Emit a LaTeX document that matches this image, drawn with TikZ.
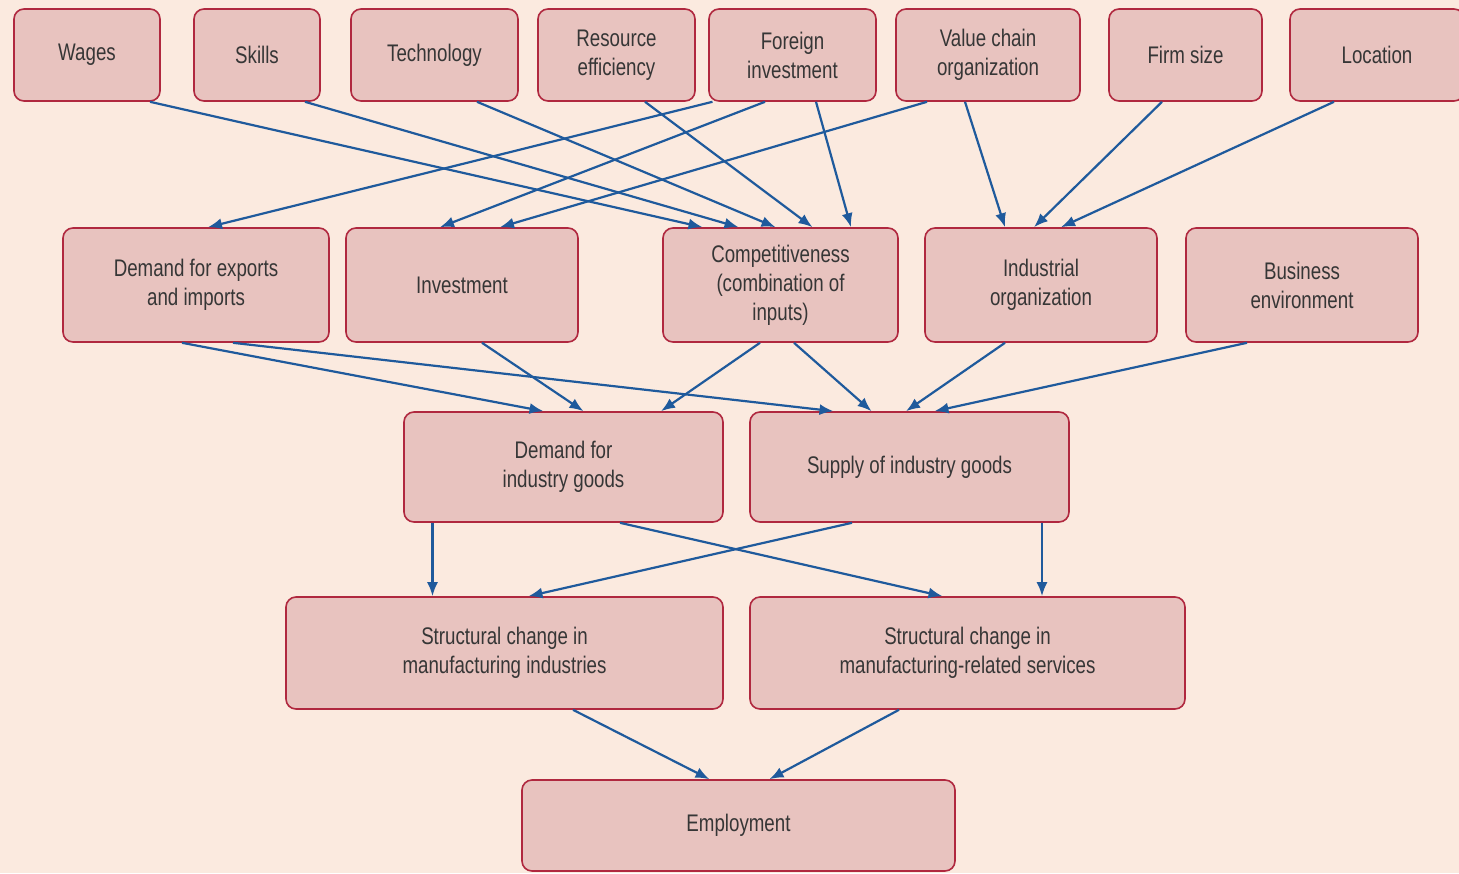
\documentclass[tikz,border=0pt]{standalone}
\usepackage{fontspec}
\setmainfont{Liberation Sans}[FakeStretch=0.78]
\usetikzlibrary{arrows.meta}
\definecolor{bgcol}{HTML}{FBEADF}
\definecolor{boxfill}{HTML}{E8C3BF}
\definecolor{boxline}{HTML}{B0283F}
\definecolor{txtcol}{HTML}{363636}
\definecolor{arrcol}{HTML}{1F5A9C}
\tikzset{
  box/.style={draw=boxline, fill=boxfill, line width=1.6pt, rounded corners=10pt,
    align=center, text=txtcol, inner sep=0pt,
    font=\fontsize{24}{29}\selectfont},
  conn/.style={draw=arrcol, line width=2.2pt, -{Latex[length=14pt,width=11pt]}}
}
\begin{document}
\begin{tikzpicture}[x=1pt,y=-1pt]
\fill[bgcol] (0,0) rectangle (1459,873);
\useasboundingbox (0,0) rectangle (1459,873);
% top row
\node[box, minimum width=146pt, minimum height=92pt] (wages) at (87,55) {Wages};
\node[box, minimum width=126pt, minimum height=92pt] (skills) at (257,55) {Skills};
\node[box, minimum width=167pt, minimum height=92pt] (tech) at (434.5,55) {Technology};
\node[box, minimum width=157pt, minimum height=92pt] (res) at (616.5,55) {Resource\\efficiency};
\node[box, minimum width=167pt, minimum height=92pt] (fdi) at (792.5,55) {Foreign\\investment};
\node[box, minimum width=184pt, minimum height=92pt] (vco) at (988,55) {Value chain\\organization};
\node[box, minimum width=153pt, minimum height=92pt] (firm) at (1185.5,55) {Firm size};
\node[box, minimum width=174pt, minimum height=92pt] (loc) at (1377,55) {Location};
% second row
\node[box, minimum width=266pt, minimum height=114pt] (demexp) at (196,285) {Demand for exports\\and imports};
\node[box, minimum width=232pt, minimum height=114pt] (inv) at (462,285) {Investment};
\node[box, minimum width=235pt, minimum height=114pt] (comp) at (780.5,285) {Competitiveness\\(combination of\\inputs)};
\node[box, minimum width=232pt, minimum height=114pt] (indorg) at (1041,285) {Industrial\\organization};
\node[box, minimum width=232pt, minimum height=114pt] (bizenv) at (1302,285) {Business\\environment};
% third row
\node[box, minimum width=319pt, minimum height=110pt] (demind) at (563.5,467) {Demand for\\industry goods};
\node[box, minimum width=319pt, minimum height=110pt] (supind) at (909.5,467) {Supply of industry goods};
% fourth row
\node[box, minimum width=437pt, minimum height=112pt] (scmi) at (504.5,653) {Structural change in\\manufacturing industries};
\node[box, minimum width=435pt, minimum height=112pt] (scms) at (967.5,653) {Structural change in\\manufacturing-related services};
% fifth row
\node[box, minimum width=433pt, minimum height=91pt] (emp) at (738.5,825.5) {Employment};
% connectors top -> row 2
\draw[conn] ([xshift=63pt]wages.south) -- ([xshift=-78pt]comp.north);
\draw[conn] ([xshift=48pt]skills.south) -- ([xshift=-42pt]comp.north);
\draw[conn] ([xshift=42.5pt]tech.south) -- ([xshift=-5pt]comp.north);
\draw[conn] ([xshift=28.5pt]res.south) -- ([xshift=32pt]comp.north);
\draw[conn] ([xshift=23.5pt]fdi.south) -- ([xshift=70.5pt]comp.north);
\draw[conn] ([xshift=-80pt]fdi.south) -- ([xshift=12pt]demexp.north);
\draw[conn] ([xshift=-27.5pt]fdi.south) -- ([xshift=-22pt]inv.north);
\draw[conn] ([xshift=-61pt]vco.south) -- ([xshift=38pt]inv.north);
\draw[conn] ([xshift=-23pt]vco.south) -- ([xshift=-36pt]indorg.north);
\draw[conn] ([xshift=-23.5pt]firm.south) -- ([xshift=-7pt]indorg.north);
\draw[conn] ([xshift=-43pt]loc.south) -- ([xshift=20pt]indorg.north);
% row 2 -> row 3
\draw[conn] ([xshift=-14pt]demexp.south) -- ([xshift=-20pt]demind.north);
\draw[conn] ([xshift=37pt]demexp.south) -- ([xshift=-76pt]supind.north);
\draw[conn] ([xshift=20pt]inv.south) -- ([xshift=20pt]demind.north);
\draw[conn] ([xshift=-20.5pt]comp.south) -- ([xshift=97.5pt]demind.north);
\draw[conn] ([xshift=13.5pt]comp.south) -- ([xshift=-38pt]supind.north);
\draw[conn] ([xshift=-36pt]indorg.south) -- ([xshift=-3.5pt]supind.north);
\draw[conn] ([xshift=-55pt]bizenv.south) -- ([xshift=25pt]supind.north);
% row 3 -> row 4
\draw[conn] ([xshift=-131pt]demind.south) -- ([xshift=-72pt]scmi.north);
\draw[conn] ([xshift=56.5pt]demind.south) -- ([xshift=-25pt]scms.north);
\draw[conn] ([xshift=-57.5pt]supind.south) -- ([xshift=24pt]scmi.north);
\draw[conn] ([xshift=132.5pt]supind.south) -- ([xshift=74.5pt]scms.north);
% row 4 -> row 5
\draw[conn] ([xshift=68.5pt]scmi.south) -- ([xshift=-29pt]emp.north);
\draw[conn] ([xshift=-68.5pt]scms.south) -- ([xshift=31pt]emp.north);
\end{tikzpicture}
\end{document}
